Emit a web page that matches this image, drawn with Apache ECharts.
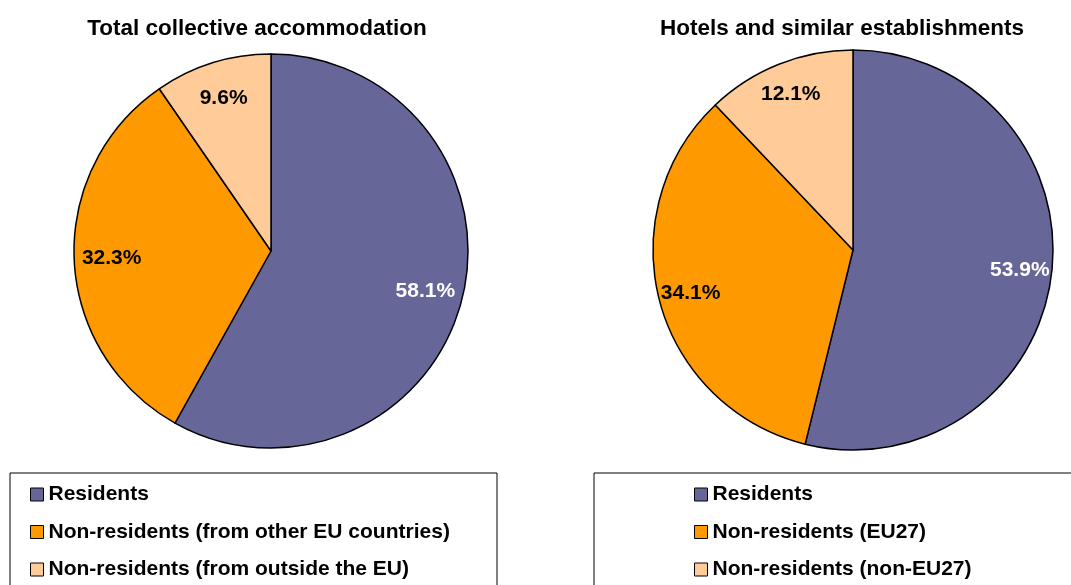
<!DOCTYPE html>
<html>
<head>
<meta charset="utf-8">
<script src="https://cdn.jsdelivr.net/npm/echarts@6/dist/echarts.min.js"></script>
<style>
  html, body { margin: 0; padding: 0; background: #fff; }
  #chart { width: 1071px; height: 585px; }
</style>
</head>
<body>
<div id="chart"></div>
<script>
const leftTitle = 'Total collective accommodation'
const rightTitle = 'Hotels and similar establishments'
const leftNames = ['Residents', 'Non-residents (from other EU countries)', 'Non-residents (from outside the EU)']
const rightNames = ['Residents', 'Non-residents (EU27)', 'Non-residents (non-EU27)']
const leftValues = [58.1, 32.3, 9.6]
const rightValues = [53.9, 34.1, 12.1]

const colors = ['#666699', '#ff9900', '#ffcc99']
const labelColors = ['#ffffff', '#000000', '#000000']
const font = "'Liberation Sans', Arial, sans-serif"

const chart = echarts.init(document.getElementById('chart'))

function pieData(names, values) {
  return names.map((n, i) => ({ name: n, value: values[i], itemStyle: { color: colors[i] } }))
}
function labelData(names, values) {
  return names.map((n, i) => ({
    name: n,
    value: values[i],
    label: { color: labelColors[i] }
  }))
}
function mainPie(names, values, center, radius) {
  return {
    type: 'pie',
    center: center,
    radius: radius,
    startAngle: 90,
    clockwise: true,
    label: { show: false },
    labelLine: { show: false },
    emphasis: { disabled: true },
    itemStyle: { borderColor: '#000', borderWidth: 1.5 },
    data: pieData(names, values)
  }
}
// transparent ring, only used to place the % labels near the rim
function labelPie(names, values, center, radius) {
  return {
    type: 'pie',
    center: center,
    radius: radius,
    startAngle: 90,
    clockwise: true,
    silent: true,
    avoidLabelOverlap: false,
    itemStyle: { color: 'transparent', borderWidth: 0 },
    emphasis: { disabled: true },
    labelLine: { show: false },
    label: {
      show: true,
      position: 'inside',
      fontFamily: font,
      fontWeight: 'bold',
      fontSize: 21,
      formatter: p => p.value.toFixed(1) + '%'
    },
    data: labelData(names, values)
  }
}

const legendCommon = {
  orient: 'vertical',
  padding: 0,
  itemWidth: 13,
  itemHeight: 13,
  itemGap: 16.5,
  icon: 'rect',
  itemStyle: { borderColor: '#000', borderWidth: 1 },
  textStyle: { fontFamily: font, fontWeight: 'bold', fontSize: 21, color: '#000', lineHeight: 21 }
}
const titleStyle = { fontFamily: font, fontWeight: 'bold', fontSize: 22.5, color: '#000' }

const option = {
  animation: false,
  title: [
    { text: leftTitle, left: 252, top: 12, textAlign: 'center', textStyle: titleStyle },
    { text: rightTitle, left: 837, top: 12, textAlign: 'center', textStyle: titleStyle }
  ],
  legend: [
    Object.assign({}, legendCommon, { data: leftNames, left: 30, top: 484 }),
    Object.assign({}, legendCommon, { data: rightNames, left: 694, top: 484 })
  ],
  graphic: [
    { type: 'rect', shape: { x: 10, y: 473, width: 487, height: 140 }, style: { fill: 'none', stroke: '#000', lineWidth: 1 } },
    { type: 'rect', shape: { x: 594, y: 473, width: 500, height: 140 }, style: { fill: 'none', stroke: '#000', lineWidth: 1 } }
  ],
  series: [
    mainPie(leftNames, leftValues, [271, 251], 197),
    mainPie(rightNames, rightValues, [853, 250], 200),
    labelPie(leftNames, leftValues, [271, 251], [116, 197]),
    labelPie(rightNames, rightValues, [853, 250], [130, 200])
  ]
}
chart.setOption(option, true)
</script>
</body>
</html>
